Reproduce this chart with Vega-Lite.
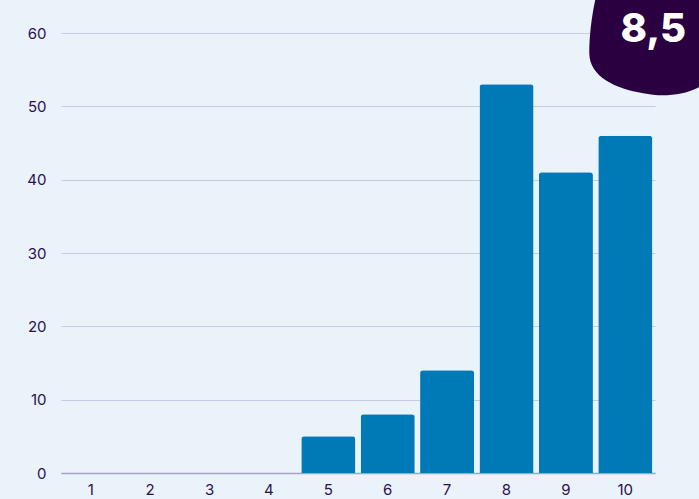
{
  "$schema": "https://vega.github.io/schema/vega-lite/v6.json",
  "autosize": "none",
  "width": 594,
  "height": 440,
  "padding": {"left": 61, "top": 33, "right": 44, "bottom": 26},
  "background": "#EAF2FA",
  "config": {
    "view": {"stroke": null},
    "font": "Inter",
    "axis": {"labelFont": "Inter", "labelColor": "#2C1150", "labelFontSize": 15}
  },
  "datasets": {
    "bars": [
      {"score": "1", "count": 0},
      {"score": "2", "count": 0},
      {"score": "3", "count": 0},
      {"score": "4", "count": 0},
      {"score": "5", "count": 5},
      {"score": "6", "count": 8},
      {"score": "7", "count": 14},
      {"score": "8", "count": 53},
      {"score": "9", "count": 41},
      {"score": "10", "count": 46}
    ],
    "badge": [{"label": "8,5", "score": "10", "count": 60}]
  },
  "layer": [
    {
      "data": {"name": "bars"},
      "mark": {"type": "bar", "color": "#0079B7", "cornerRadiusTopLeft": 3, "cornerRadiusTopRight": 3},
      "encoding": {
        "x": {
          "field": "score", "type": "ordinal", "sort": null,
          "scale": {"domain": ["1", "2", "3", "4", "5", "6", "7", "8", "9", "10"], "paddingInner": 0.09, "paddingOuter": 0.045},
          "axis": {"title": null, "labelAngle": 0, "ticks": false, "domain": true, "domainColor": "#A8A2C0", "domainWidth": 1.5, "labelPadding": 9}
        },
        "y": {
          "field": "count", "type": "quantitative",
          "scale": {"domain": [0, 60]},
          "axis": {"title": null, "values": [0, 10, 20, 30, 40, 50, 60], "ticks": false, "domain": false, "gridColor": "#C8CADD", "gridWidth": 1, "labelPadding": 15}
        }
      }
    },
    {
      "data": {"name": "badge"},
      "mark": {
        "type": "point", "filled": true, "color": "#2A0040", "opacity": 1, "size": 14400,
        "shape": "M -0.75 -1.1 C -0.3 -1.3 0.7 -1.2 1.1 -0.9 C 1.4 -0.5 1.3 0.55 0.95 0.75 C 0.6 0.98 0.2 0.98 -0.1 0.92 C -0.55 0.85 -1.0 0.65 -1.0 0.25 C -1.0 -0.2 -0.9 -0.8 -0.75 -1.1 Z",
        "xOffset": 24, "yOffset": 5
      },
      "encoding": {
        "x": {"field": "score", "type": "ordinal", "sort": null},
        "y": {"field": "count", "type": "quantitative"}
      }
    },
    {
      "data": {"name": "badge"},
      "mark": {"type": "text", "color": "#FFFFFF", "font": "Inter", "fontWeight": 800, "fontSize": 40, "dx": 28, "dy": -3, "baseline": "middle", "align": "center"},
      "encoding": {
        "x": {"field": "score", "type": "ordinal", "sort": null},
        "y": {"field": "count", "type": "quantitative"},
        "text": {"field": "label"}
      }
    }
  ]
}
